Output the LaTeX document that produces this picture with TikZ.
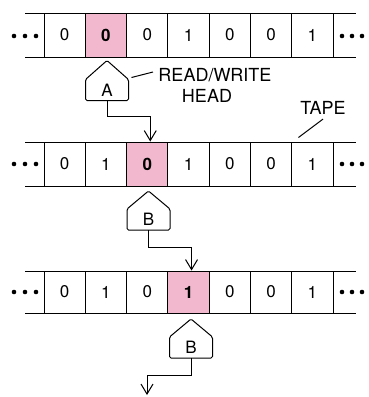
\documentclass[tikz,border=0pt]{standalone}
\usepackage{fontspec}
\setmainfont{TeX Gyre Heros}
\usetikzlibrary{arrows.meta,calc}
\definecolor{cellpink}{RGB}{242,184,206}
\begin{document}
\begin{tikzpicture}[x=1pt,y=-1pt,line width=1pt,
  cell/.style={draw, minimum width=41.3pt, inner sep=0pt, font=\fontsize{17}{20}\selectfont},
  hot/.style={cell, fill=cellpink, font=\fontsize{17}{20}\selectfont\bfseries},
  headbody/.style={minimum width=42pt, minimum height=20pt, inner sep=0pt, font=\fontsize{17}{20}\selectfont},
  headline/.style={draw, line width=1pt, rounded corners=1.5pt, fill=white},
  conn/.style={draw, line width=1pt, -{Straight Barb[length=10pt,width=12pt]}},
  lbl/.style={inner sep=0pt, font=\fontsize{18}{20}\selectfont},
  dot/.style={fill=black}
]
\useasboundingbox (0,0) rectangle (369,397);

% ---------- tape 1 ----------
\draw (25,13) -- (356,13) (25,57) -- (356,57);
\begin{scope}[every node/.append style={minimum height=44pt}]
\node[cell] (a1) at (64.65,35) {0};
\node[hot]  (a2) at (105.95,35) {0};
\node[cell] (a3) at (147.25,35) {0};
\node[cell] (a4) at (188.55,35) {1};
\node[cell] (a5) at (229.85,35) {0};
\node[cell] (a6) at (271.15,35) {0};
\node[cell] (a7) at (312.45,35) {1};
\end{scope}
\foreach \x in {14,25,36,342,352,362} \fill[dot] (\x,36) circle (2.3pt);

% ---------- tape 2 ----------
\draw (25,142) -- (356,142) (25,186) -- (356,186);
\begin{scope}[every node/.append style={minimum height=44pt}]
\node[cell] (b1) at (64.65,164) {0};
\node[cell] (b2) at (105.95,164) {1};
\node[hot]  (b3) at (147.25,164) {0};
\node[cell] (b4) at (188.55,164) {1};
\node[cell] (b5) at (229.85,164) {0};
\node[cell] (b6) at (271.15,164) {0};
\node[cell] (b7) at (312.45,164) {1};
\end{scope}
\foreach \x in {14,25,36,342,352,362} \fill[dot] (\x,164) circle (2.3pt);

% ---------- tape 3 ----------
\draw (25,271) -- (356,271) (25,313) -- (356,313);
\begin{scope}[every node/.append style={minimum height=42pt}]
\node[cell] (c1) at (64.65,292) {0};
\node[cell] (c2) at (105.95,292) {1};
\node[cell] (c3) at (147.25,292) {0};
\node[hot]  (c4) at (188.55,292) {1};
\node[cell] (c5) at (229.85,292) {0};
\node[cell] (c6) at (271.15,292) {0};
\node[cell] (c7) at (312.45,292) {1};
\end{scope}
\foreach \x in {14,25,36,342,352,362} \fill[dot] (\x,292) circle (2.3pt);

% ---------- heads ----------
\node[headbody] (hA) at (107,90) {};
\draw[headline] (hA.south west) -- (hA.north west) -- ($(hA.north)+(0,-19)$) -- (hA.north east) -- (hA.south east) -- cycle;
\node[headbody] at (hA) {A};

\node[headbody] (hB) at (148.5,219.5) {};
\draw[headline] (hB.south west) -- (hB.north west) -- ($(hB.north)+(0,-18)$) -- (hB.north east) -- (hB.south east) -- cycle;
\node[headbody] at (hB) {B};

\node[headbody] (hC) at (191,347.5) {};
\draw[headline] (hC.south west) -- (hC.north west) -- ($(hC.north)+(0,-18)$) -- (hC.north east) -- (hC.south east) -- cycle;
\node[headbody] at (hC) {B};

% ---------- connectors ----------
\coordinate (endC) at (147,395);
\draw[conn] (hA.south) -- ++(0,16) -| ($(b3.north)+(3,0)$);
\draw[conn] (hB.south) -- ++(0,17) -| ($(c4.north)+(3,0)$);
\draw[conn] (hC.south) -- ++(0,17) -| (endC);

% ---------- labels ----------
\node[lbl] (rw) at (215,75) {READ/WRITE};
\node[lbl] (hd) at (207,96) {HEAD};
\draw ($(hA.north east)+(3,-2)$) -- ($(rw.west)+(-5,-3)$);
\node[lbl] (tp) at (323,108) {TAPE};
\draw ([yshift=-4pt]tp.south) -- ($(b7.north)+(-14,-4)$);
\end{tikzpicture}
\end{document}
